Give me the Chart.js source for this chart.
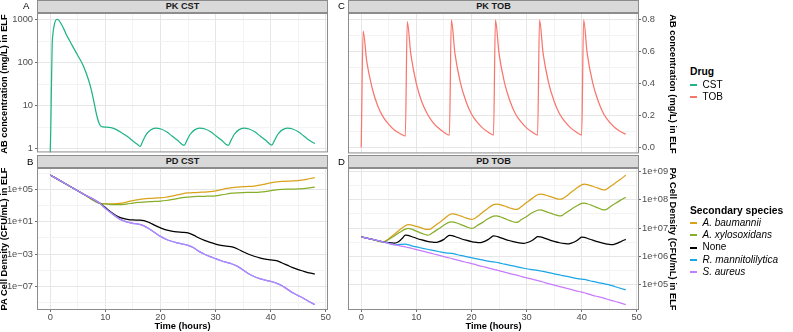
<!DOCTYPE html>
<html>
<head>
<meta charset="utf-8">
<script src="https://cdn.jsdelivr.net/npm/chart.js@4.4.0/dist/chart.umd.min.js"></script>
<style>
  html,body{margin:0;padding:0;background:#fff;}
  body{width:793px;height:332px;overflow:hidden;position:relative;font-family:"Liberation Sans",Arial,Helvetica,sans-serif;}
  .box{position:absolute;}
  .strip{position:absolute;box-sizing:border-box;background:#d9d9d9;border:1px solid #8c8c8c;font-weight:bold;font-size:9.2px;color:#1a1a1a;text-align:center;line-height:11px;}
  .letter{position:absolute;font-size:9.6px;color:#000;line-height:1;transform:translateY(-50%);}
  .ytl{position:absolute;font-weight:bold;font-size:9.3px;color:#000;white-space:nowrap;line-height:1;transform:translate(-50%,-50%) rotate(-90deg);}
  .ytr{position:absolute;font-weight:bold;font-size:9.3px;color:#000;white-space:nowrap;line-height:1;transform:translate(-50%,-50%) rotate(90deg);}
  .xt{position:absolute;font-weight:bold;font-size:9.3px;color:#000;white-space:nowrap;line-height:1;transform:translate(-50%,-50%);}
  .lgt{position:absolute;font-weight:bold;font-size:10.3px;color:#000;white-space:nowrap;line-height:1;transform:translateY(-50%);}
  .lgi{position:absolute;font-size:10px;color:#000;white-space:nowrap;line-height:1;transform:translateY(-50%);}
  .key{position:absolute;width:7px;height:1.5px;}
</style>
</head>
<body>
<div class="box" style="left:0;top:0;width:335px;height:160px;"><canvas id="cA" width="335" height="160"></canvas></div>
<div class="box" style="left:0;top:155px;width:335px;height:177px;"><canvas id="cB" width="335" height="177"></canvas></div>
<div class="box" style="left:335px;top:0;width:345px;height:160px;"><canvas id="cC" width="345" height="160"></canvas></div>
<div class="box" style="left:335px;top:155px;width:345px;height:177px;"><canvas id="cD" width="345" height="177"></canvas></div>

<div class="strip" style="left:37px;top:0;width:291px;height:13px;">PK CST</div>
<div class="strip" style="left:348px;top:0;width:291px;height:13px;">PK TOB</div>
<div class="strip" style="left:37px;top:155px;width:291px;height:13px;">PD CST</div>
<div class="strip" style="left:348px;top:155px;width:291px;height:13px;">PD TOB</div>

<div class="letter" style="left:23px;top:5.5px;">A</div>
<div class="letter" style="left:27px;top:162px;">B</div>
<div class="letter" style="left:338px;top:6px;">C</div>
<div class="letter" style="left:338px;top:162px;">D</div>

<div class="ytl" style="left:5px;top:84px;">AB concentration (mg/L) in ELF</div>
<div class="ytl" style="left:5px;top:239px;">PA Cell Density (CFU/mL) in ELF</div>
<div class="ytr" style="left:672px;top:84px;">AB concentration (mg/L) in ELF</div>
<div class="ytr" style="left:671.5px;top:239px;">PA Cell Density (CFU/mL) in ELF</div>
<div class="xt" style="left:182.5px;top:326.5px;">Time (hours)</div>
<div class="xt" style="left:493.5px;top:326.5px;">Time (hours)</div>

<div class="lgt" style="left:690px;top:71.5px;">Drug</div>
<div class="key" style="left:690px;top:84px;background:#1fb487;"></div>
<div class="lgi" style="left:702.5px;top:85px;">CST</div>
<div class="key" style="left:690px;top:96px;background:#f8766d;"></div>
<div class="lgi" style="left:702.5px;top:96.7px;">TOB</div>

<div class="lgt" style="left:690px;top:211px;">Secondary species</div>
<div class="key" style="left:690px;top:222px;background:#d9a21b;"></div>
<div class="lgi" style="left:702.5px;top:222.7px;font-style:italic;">A. baumannii</div>
<div class="key" style="left:690px;top:234px;background:#86ae2a;"></div>
<div class="lgi" style="left:702.5px;top:235px;font-style:italic;">A. xylosoxidans</div>
<div class="key" style="left:690px;top:247px;background:#000;"></div>
<div class="lgi" style="left:702.5px;top:247.2px;">None</div>
<div class="key" style="left:690px;top:259px;background:#1aa6e6;"></div>
<div class="lgi" style="left:702.5px;top:259.5px;font-style:italic;">R. mannitolilytica</div>
<div class="key" style="left:690px;top:271px;background:#c77cff;"></div>
<div class="lgi" style="left:702.5px;top:271.7px;font-style:italic;">S. aureus</div>

<script>
// ---------------- DATA ----------------
// shared time axis ticks
const timeTickLabels = [0, 10, 20, 30, 40, 50];
const timeMinorTicks = [5, 15, 25, 35, 45];

// Panel A: PK CST (mg/L)
const pkCstTime = [0,0.1,0.2,0.35,0.5,0.7,0.9,1.15,1.5,2,
  2.5,3,3.5,4,5,6,7,7.5,8,8.5,8.9,
  9.3,10,11,12,13,14,15,15.8,16.3,
  16.8,17.4,18.2,19.1,20.1,21.1,22.1,23.1,24.3,
  24.8,25.4,26.2,27.1,28.1,29.1,30.1,31.1,32.3,
  32.8,33.4,34.2,35.1,36.1,37.1,38.1,39.1,40.2,
  40.7,41.3,42.1,43,44,45,46,47,48];
const pkCstConc = [0.8,3,20,250,480,720,920,1030,1000,800,
  600,430,330,250,148,85,38,22,11,5.5,3.8,
  3.25,3.15,3.05,2.75,2.3,1.9,1.5,1.25,1.12,
  1.5,2.1,2.7,3.0,2.85,2.45,1.95,1.55,1.18,
  1.55,2.15,2.72,3.0,2.85,2.45,1.95,1.55,1.18,
  1.55,2.15,2.72,3.0,2.85,2.45,1.95,1.55,1.2,
  1.55,2.15,2.72,3.0,2.85,2.45,1.95,1.55,1.3];
const pkCstTicks = [1, 10, 100, 1000];
const pkCstTickLabels = ["1", "10", "100", "1000"];
const pkCstMinorTicks = [3.1623, 31.623, 316.23];

// Panel C: PK TOB (mg/L)
const pkTobTime = [0,0.35,1,2,3,4,5,6,7,8,
  8.35,9,10,11,12,13,14,15,16,
  16.35,17,18,19,20,21,22,23,24,
  24.35,25,26,27,28,29,30,31,32,
  32.35,33,34,35,36,37,38,39,40,
  40.35,41,42,43,44,45,46,47,48];
const pkTobConc = [0,0.73,0.54,0.37,0.26,0.19,0.145,0.11,0.088,0.072,
  0.79,0.585,0.40,0.285,0.21,0.158,0.122,0.096,0.077,
  0.80,0.59,0.405,0.29,0.21,0.16,0.123,0.097,0.078,
  0.80,0.59,0.405,0.29,0.21,0.16,0.123,0.097,0.078,
  0.80,0.59,0.405,0.29,0.21,0.16,0.123,0.097,0.078,
  0.80,0.59,0.405,0.29,0.21,0.16,0.125,0.10,0.083];
const pkTobTicks = [0, 0.2, 0.4, 0.6, 0.8];
const pkTobTickLabels = ["0.0", "0.2", "0.4", "0.6", "0.8"];
const pkTobMinorTicks = [0.1, 0.3, 0.5, 0.7];

// Panel B: PD CST, log10(CFU/mL)
const pdCstTime = [0,3,6,9, 10,11,12,13,14,15,16,17,18,19,
  20,21,22,23,24,25,26,27,28,29,
  30,31,32,33,34,35,36,37,38,39,
  40,41,42,43,44,45,46,47,48];
const pdCstBaumLog10 = [6.76,5.6,4.43,3.27, 3.22,3.2,3.22,3.3,3.45,3.6,3.72,3.82,3.88,3.92,
  3.95,4.02,4.15,4.3,4.45,4.55,4.6,4.63,4.65,4.7,
  4.8,4.95,5.1,5.2,5.27,5.32,5.35,5.4,5.5,5.65,
  5.8,5.9,5.97,6.0,6.03,6.08,6.15,6.3,6.45];
const pdCstXyloLog10 = [6.76,5.6,4.43,3.27, 3.2,3.12,3.1,3.12,3.2,3.3,3.38,3.43,3.47,3.5,
  3.55,3.62,3.72,3.85,3.97,4.05,4.1,4.12,4.14,4.16,
  4.2,4.3,4.42,4.52,4.57,4.6,4.61,4.62,4.65,4.72,
  4.83,4.93,4.98,5.01,5.03,5.05,5.08,5.17,5.27];
const pdCstNoneLog10 = [6.76,5.6,4.43,3.27, 2.75,2.2,1.75,1.45,1.3,1.22,1.2,1.15,0.9,0.55,
  0.25,0.0,-0.15,-0.25,-0.3,-0.38,-0.65,-1.0,-1.3,-1.55,
  -1.75,-1.9,-2.0,-2.1,-2.35,-2.7,-3.0,-3.25,-3.45,-3.6,
  -3.7,-3.8,-4.05,-4.35,-4.65,-4.9,-5.1,-5.3,-5.45];
const pdCstRmanLog10 = [6.76,5.6,4.43,3.27, 2.65,2.1,1.6,1.2,0.95,0.8,0.7,0.5,0.1,-0.35,
  -0.8,-1.15,-1.4,-1.6,-1.75,-1.9,-2.2,-2.65,-3.0,-3.3,
  -3.55,-3.8,-4.0,-4.2,-4.5,-4.95,-5.4,-5.75,-6.0,-6.2,
  -6.35,-6.55,-6.85,-7.3,-7.75,-8.1,-8.45,-8.85,-9.2];
const pdCstSaurLog10 = [6.76,5.6,4.43,3.27, 2.65,2.1,1.6,1.2,0.95,0.8,0.7,0.5,0.1,-0.35,
  -0.8,-1.15,-1.4,-1.6,-1.75,-1.9,-2.2,-2.65,-3.0,-3.3,
  -3.55,-3.8,-4.0,-4.2,-4.5,-4.95,-5.4,-5.75,-6.0,-6.2,
  -6.35,-6.55,-6.85,-7.3,-7.75,-8.1,-8.45,-8.85,-9.2];
const pdCstTicks = [1e-7, 1e-3, 1e1, 1e5];
const pdCstTickLabels = ["1e\u221207", "1e\u221203", "1e+01", "1e+05"];
const pdCstMinorTicks = [1e-9, 1e-5, 1e-1, 1e3, 1e7];

// Panel D: PD TOB, log10(CFU/mL)
const pdTobTime = [0,2,4,5,6,7,8,
  8.5,9,10,11,12,12.5,13,14,15,16,
  16.5,17,18,19,20,20.5,21,22,23,24,
  24.5,25,26,27,28,28.5,29,30,31,32,
  32.5,33,34,35,36,36.5,37,38,39,40,
  40.5,41,42,43,44,44.5,45,46,47,48];
const pdTobBaumLog10 = [6.69,6.6,6.51,6.62,6.78,6.94,7.08,
  7.12,7.11,7.06,7.0,6.95,6.96,7.03,7.17,7.32,7.47,
  7.5,7.49,7.43,7.36,7.31,7.33,7.4,7.55,7.7,7.83,
  7.85,7.84,7.78,7.71,7.66,7.68,7.75,7.9,8.05,8.18,
  8.2,8.19,8.13,8.07,8.02,8.04,8.1,8.25,8.4,8.53,
  8.55,8.54,8.48,8.41,8.35,8.37,8.44,8.58,8.72,8.87];
const pdTobXyloLog10 = [6.69,6.6,6.51,6.6,6.72,6.85,6.96,
  6.99,6.97,6.89,6.81,6.75,6.77,6.84,6.97,7.1,7.21,
  7.22,7.2,7.13,7.05,6.99,7.01,7.08,7.2,7.33,7.42,
  7.43,7.41,7.34,7.26,7.2,7.22,7.29,7.41,7.54,7.63,
  7.64,7.62,7.55,7.48,7.43,7.45,7.52,7.65,7.77,7.87,
  7.88,7.86,7.79,7.71,7.64,7.66,7.73,7.86,7.98,8.09];
const pdTobRmanLog10 = [6.69,6.6,6.51,6.46,6.41,6.42,6.43,
  6.41,6.38,6.33,6.29,6.25,6.23,6.21,6.17,6.13,6.11,
  6.1,6.08,6.03,5.99,5.95,5.93,5.91,5.87,5.83,5.8,
  5.79,5.77,5.72,5.68,5.64,5.62,5.6,5.56,5.53,5.5,
  5.48,5.47,5.42,5.38,5.34,5.32,5.3,5.26,5.22,5.19,
  5.18,5.16,5.11,5.07,5.03,5.01,4.99,4.93,4.87,4.81];
const pdTobSaurLog10 = [6.69,6.6,6.51,6.46,6.41,6.37,6.33,
  6.31,6.29,6.24,6.19,6.14,6.12,6.09,6.04,5.99,5.94,
  5.92,5.89,5.84,5.79,5.74,5.72,5.69,5.64,5.59,5.54,
  5.52,5.49,5.44,5.39,5.34,5.32,5.29,5.24,5.19,5.14,
  5.12,5.09,5.03,4.98,4.93,4.91,4.88,4.83,4.78,4.73,
  4.71,4.68,4.62,4.57,4.52,4.49,4.46,4.41,4.35,4.29];
const pdTobNoneTime = [0,2,4,5,6,6.5,7,7.5,8,
  8.5,9,10,11,12,13,13.5,14,15,15.5,16,
  16.5,17,18,19,20,21,21.5,22,23,23.5,24,
  24.5,25,26,27,28,29,29.5,30,31,31.5,32,
  32.5,33,34,35,36,37,37.5,38,39,39.5,40,
  40.5,41,42,43,44,45,45.5,46,47,47.5,48];
const pdTobNoneLog10 = [6.69,6.6,6.51,6.48,6.47,6.49,6.55,6.65,6.75,
  6.74,6.71,6.64,6.58,6.53,6.5,6.49,6.51,6.6,6.68,6.74,
  6.73,6.7,6.63,6.57,6.52,6.49,6.48,6.5,6.59,6.66,6.72,
  6.71,6.68,6.61,6.55,6.5,6.47,6.46,6.48,6.56,6.63,6.7,
  6.69,6.66,6.59,6.53,6.48,6.45,6.44,6.46,6.54,6.61,6.68,
  6.67,6.64,6.57,6.51,6.46,6.42,6.41,6.43,6.51,6.56,6.6];
const pdTobTicks = [1e5, 1e6, 1e7, 1e8, 1e9];
const pdTobTickLabels = ["1e+05", "1e+06", "1e+07", "1e+08", "1e+09"];
const pdTobMinorTicks = [3.1623e5, 3.1623e6, 3.1623e7, 3.1623e8];

// series colours
const drugColors = {CST: '#1fb487', TOB: '#f8766d'};
const speciesColors = {baum: '#d9a21b', xylo: '#86ae2a', none: '#000000', rman: '#1aa6e6', saur: '#c77cff'};

// ---------------- CHART HELPERS ----------------
const FONT = '"Liberation Sans", Arial, Helvetica, sans-serif';
const GRID_MAJOR = '#e6e6e6', GRID_MINOR = '#f3f3f3', TICK_TXT = '#4d4d4d', TICK_MARK = '#6e6e6e';
Chart.defaults.font.family = FONT;

function isIn(v, arr) { return arr.some(a => Math.abs(a - v) <= Math.abs(a) * 1e-6 + 1e-12); }
function idxIn(v, arr) { return arr.findIndex(a => Math.abs(a - v) <= Math.abs(a) * 1e-6 + 1e-12); }

function pts(times, vals) { return times.map((t, i) => ({x: t, y: vals[i]})); }
function ptsLog(times, logs) { return times.map((t, i) => ({x: t, y: Math.pow(10, logs[i])})); }

function xScale(showLabels) {
  const all = timeTickLabels.concat(timeMinorTicks).sort((a, b) => a - b);
  return {
    type: 'linear', min: -2.4, max: 50.4,
    afterBuildTicks: s => { s.ticks = all.map(v => ({value: v})); },
    afterFit: s => { s.height = showLabels ? 22 : 5; },
    ticks: {display: showLabels, autoSkip: false, maxRotation: 0, minRotation: 0, padding: 0,
      color: TICK_TXT, font: {size: 9.3, family: FONT},
      callback: v => isIn(v, timeTickLabels) ? String(v) : ''},
    grid: {drawOnChartArea: true, drawTicks: showLabels, tickLength: 2, tickWidth: 1,
      color: c => (c.tick && isIn(c.tick.value, timeTickLabels)) ? GRID_MAJOR : GRID_MINOR,
      lineWidth: 1,
      tickColor: c => (c.tick && isIn(c.tick.value, timeTickLabels)) ? TICK_MARK : 'rgba(0,0,0,0)'},
    border: {display: false}
  };
}

function yScale(type, min, max, majors, labels, minors, position, width) {
  const all = majors.concat(minors).sort((a, b) => a - b);
  return {
    type, position, min, max,
    afterBuildTicks: s => { s.ticks = all.map(v => ({value: v})); },
    afterFit: s => { s.width = width; },
    ticks: {autoSkip: false, padding: position === 'left' ? 2 : 1, color: TICK_TXT,
      font: {size: 9.3, family: FONT},
      callback: v => { const i = idxIn(v, majors); return i >= 0 ? labels[i] : ''; }},
    grid: {drawOnChartArea: true, drawTicks: true, tickLength: 2, tickWidth: 1, lineWidth: 1,
      color: c => (c.tick && isIn(c.tick.value, majors)) ? GRID_MAJOR : GRID_MINOR,
      tickColor: c => (c.tick && isIn(c.tick.value, majors)) ? TICK_MARK : 'rgba(0,0,0,0)'},
    border: {display: false}
  };
}

const framePlugin = {
  id: 'frame',
  afterDraw(chart) {
    const a = chart.chartArea, c = chart.ctx;
    c.save();
    c.strokeStyle = '#8c8c8c';
    c.lineWidth = 1;
    c.strokeRect(a.left + 0.5, a.top + 0.5, a.right - a.left - 1, a.bottom - a.top - 1);
    c.restore();
  }
};

function makeChart(id, datasets, xOpt, yOpt, padding) {
  return new Chart(document.getElementById(id), {
    type: 'line',
    data: {datasets},
    options: {
      responsive: false, animation: false, devicePixelRatio: 1,
      layout: {padding, autoPadding: false},
      plugins: {legend: {display: false}, tooltip: {enabled: false}},
      elements: {point: {radius: 0, hoverRadius: 0},
        line: {borderWidth: 1.25, cubicInterpolationMode: 'monotone', fill: false}},
      scales: {x: xOpt, y: yOpt}
    },
    plugins: [framePlugin]
  });
}

function ds(data, color, order) { return {data, borderColor: color, backgroundColor: color, order}; }

// Panel A
makeChart('cA',
  [ds(pts(pkCstTime, pkCstConc), drugColors.CST, 0)],
  xScale(false),
  yScale('logarithmic', Math.pow(10, -0.0916), Math.pow(10, 3.16), pkCstTicks, pkCstTickLabels, pkCstMinorTicks, 'left', 37),
  {left: 0, top: 13, right: 7, bottom: 0});

// Panel B
makeChart('cB',
  [ds(ptsLog(pdCstTime, pdCstBaumLog10), speciesColors.baum, 4),
   ds(ptsLog(pdCstTime, pdCstXyloLog10), speciesColors.xylo, 3),
   ds(ptsLog(pdCstTime, pdCstNoneLog10), speciesColors.none, 2),
   ds(ptsLog(pdCstTime, pdCstRmanLog10), speciesColors.rman, 1),
   ds(ptsLog(pdCstTime, pdCstSaurLog10), speciesColors.saur, 0)],
  xScale(true),
  yScale('logarithmic', Math.pow(10, -9.871), Math.pow(10, 7.624), pdCstTicks, pdCstTickLabels, pdCstMinorTicks, 'left', 37),
  {left: 0, top: 13, right: 7, bottom: 0});

// Panel C
makeChart('cC',
  [ds(pts(pkTobTime, pkTobConc), drugColors.TOB, 0)],
  xScale(false),
  yScale('linear', -0.0372, 0.8434, pkTobTicks, pkTobTickLabels, pkTobMinorTicks, 'right', 41),
  {left: 13, top: 13, right: 0, bottom: 0});

// Panel D
makeChart('cD',
  [ds(ptsLog(pdTobTime, pdTobBaumLog10), speciesColors.baum, 4),
   ds(ptsLog(pdTobTime, pdTobXyloLog10), speciesColors.xylo, 3),
   ds(ptsLog(pdTobNoneTime, pdTobNoneLog10), speciesColors.none, 2),
   ds(ptsLog(pdTobTime, pdTobRmanLog10), speciesColors.rman, 1),
   ds(ptsLog(pdTobTime, pdTobSaurLog10), speciesColors.saur, 0)],
  xScale(true),
  yScale('logarithmic', Math.pow(10, 4.10), Math.pow(10, 9.125), pdTobTicks, pdTobTickLabels, pdTobMinorTicks, 'right', 41),
  {left: 13, top: 13, right: 0, bottom: 0});
</script>
</body>
</html>
